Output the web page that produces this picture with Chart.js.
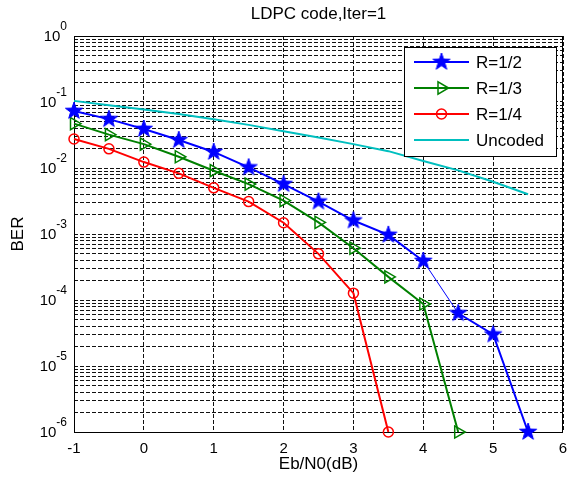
<!DOCTYPE html>
<html>
<head>
<meta charset="utf-8">
<script src="https://cdn.jsdelivr.net/npm/chart.js@4.4.0/dist/chart.umd.min.js"></script>
<style>
  html, body { margin: 0; padding: 0; background: #fff; }
  #ber { display: block; }
</style>
</head>
<body>
<canvas id="ber" width="574" height="483"></canvas>
<script>
// Eb/N0 sweep (dB)
const ebno = [-1, -0.5, 0, 0.5, 1, 1.5, 2, 2.5, 3, 3.5, 4, 4.5, 5, 5.5];

// BER per code rate (curves stop once no errors were counted)
const berHalf = [0.073, 0.055, 0.039, 0.0265, 0.0175, 0.0102, 0.0057, 0.0031, 0.0016, 0.00097, 0.00039, 0.000063, 0.00003, 0.000001];
const berThird = [0.047, 0.032, 0.023, 0.0148, 0.0091, 0.0057, 0.0032, 0.0015, 0.00061, 0.000224, 0.000087, 0.000001];
const berQuarter = [0.0275, 0.0195, 0.0123, 0.0083, 0.005, 0.0031, 0.00148, 0.0005, 0.000127, 0.000001];
const berUncoded = [0.104, 0.089, 0.077, 0.066, 0.055, 0.045, 0.036, 0.029, 0.023, 0.018, 0.0128, 0.0092, 0.0062, 0.0040];

const seriesNames = ["R=1/2", "R=1/3", "R=1/4", "Uncoded"];

// axis ticks
const xTicks = [-1, 0, 1, 2, 3, 4, 5, 6];
const yTickExps = [0, -1, -2, -3, -4, -5, -6];
const minorSteps = [1, 2, 3, 4, 5, 6, 7, 8, 9];

const FONT = "'Liberation Sans', Arial, Helvetica, sans-serif";
Chart.defaults.font.family = FONT;
Chart.defaults.color = "#000";

function pts(ys) {
    return ys.map((y, i) => ({ x: ebno[i], y }));
}

// filled five-point star marker
function makeStar(color, r) {
    const c = document.createElement("canvas");
    c.width = c.height = Math.ceil(2 * r + 2);
    const g = c.getContext("2d");
    const cx = c.width / 2, cy = c.height / 2;
    g.beginPath();
    for (let k = 0; k < 10; k++) {
        const rad = k % 2 === 0 ? r : r * 0.4;
        const a = -Math.PI / 2 + k * Math.PI / 5;
        g.lineTo(cx + rad * Math.cos(a), cy + rad * Math.sin(a));
    }
    g.closePath();
    g.fillStyle = color;
    g.fill();
    g.strokeStyle = color;
    g.lineWidth = 1;
    g.stroke();
    return c;
}
const starMark = makeStar("#0000ff", 9);

// y grid at every 1..9 x 10^k
const yGrid = [];
yTickExps.slice(1).forEach(e => minorSteps.forEach(m => yGrid.push(m * Math.pow(10, e))));
yGrid.push(1);

const boxPlugin = {
    id: "box",
    beforeDatasetsDraw(chart) {
        const { ctx, chartArea: a } = chart;
        ctx.save();
        ctx.strokeStyle = "#000";
        ctx.lineWidth = 1;
        ctx.strokeRect(a.left + 0.5, a.top + 0.5, a.right - a.left - 1, a.bottom - a.top);
        ctx.restore();
    },
    afterDraw(chart) {
        const { ctx, chartArea: a } = chart;
        const y = chart.scales.y;
        ctx.save();
        // title
        ctx.font = "17px " + FONT;
        ctx.fillStyle = "#000";
        ctx.textAlign = "center";
        ctx.textBaseline = "middle";
        ctx.fillText("LDPC code,Iter=1", (a.left + a.right) / 2, 14);

        // y tick labels 10^k
        yTickExps.forEach(e => {
            const py = y.getPixelForValue(Math.pow(10, e));
            const exp = String(e);
            ctx.font = "12px " + FONT;
            const ew = ctx.measureText(exp).width;
            ctx.font = "15px " + FONT;
            const bw = ctx.measureText("10").width;
            const right = a.left - 7;
            ctx.textAlign = "left";
            ctx.fillText("10", right - ew - bw, py + 1);
            ctx.font = "12px " + FONT;
            ctx.fillText(exp, right - ew, py - 9);
        });

        // legend
        const lx = a.right - 159, ly = a.top + 11, lw = 152, lh = 109;
        ctx.fillStyle = "#fff";
        ctx.fillRect(lx, ly, lw, lh);
        ctx.strokeStyle = "#000";
        ctx.lineWidth = 1;
        ctx.strokeRect(lx + 0.5, ly + 0.5, lw, lh);
        chart.data.datasets.forEach((ds, i) => {
            const ry = ly + 15 + i * 26;
            const x0 = lx + 10, x1 = lx + 65, xm = (x0 + x1) / 2;
            ctx.strokeStyle = ds.borderColor;
            ctx.lineWidth = 2;
            ctx.beginPath();
            ctx.moveTo(x0, ry);
            ctx.lineTo(x1, ry);
            ctx.stroke();
            if (ds.pointStyle === starMark) {
                ctx.drawImage(starMark, xm - starMark.width / 2, ry - starMark.height / 2);
            } else if (ds.pointStyle === "triangle") {
                const r = ds.pointRadius;
                ctx.lineWidth = ds.pointBorderWidth;
                ctx.beginPath();
                ctx.moveTo(xm + r, ry);
                ctx.lineTo(xm - r * 0.5, ry - r * 0.87);
                ctx.lineTo(xm - r * 0.5, ry + r * 0.87);
                ctx.closePath();
                ctx.stroke();
            } else if (ds.pointStyle === "circle" && ds.pointRadius > 0) {
                ctx.lineWidth = ds.pointBorderWidth;
                ctx.beginPath();
                ctx.arc(xm, ry, ds.pointRadius, 0, Math.PI * 2);
                ctx.stroke();
            }
            ctx.fillStyle = "#000";
            ctx.font = "17px " + FONT;
            ctx.textAlign = "left";
            ctx.textBaseline = "middle";
            ctx.fillText(ds.label, x1 + 7, ry + 1);
        });
        ctx.restore();
    }
};

new Chart(document.getElementById("ber"), {
    type: "line",
    data: {
        datasets: [{
            label: seriesNames[0],
            data: pts(berHalf),
            borderColor: "#0000ff",
            borderWidth: 2,
            pointStyle: starMark,
            pointRadius: 9,
            segment: { borderWidth: ctx => ctx.p0.parsed.x === 4 ? 1 : 2 }
        }, {
            label: seriesNames[1],
            data: pts(berThird),
            borderColor: "#008000",
            borderWidth: 2,
            pointStyle: "triangle",
            pointRotation: 90,
            pointRadius: 7,
            pointBorderWidth: 1.5,
            pointBackgroundColor: "rgba(0,0,0,0)",
            pointBorderColor: "#008000"
        }, {
            label: seriesNames[2],
            data: pts(berQuarter),
            borderColor: "#ff0000",
            borderWidth: 2,
            pointStyle: "circle",
            pointRadius: 5,
            pointBorderWidth: 1.5,
            pointBackgroundColor: "rgba(0,0,0,0)",
            pointBorderColor: "#ff0000"
        }, {
            label: seriesNames[3],
            data: pts(berUncoded),
            borderColor: "#00bfbf",
            borderWidth: 2,
            pointStyle: "circle",
            pointRadius: 0
        }].map(ds => Object.assign(ds, { tension: 0, fill: false, clip: false }))
    },
    options: {
        responsive: false,
        animation: false,
        layout: { padding: { top: 36, right: 7, left: 0, bottom: 0 } },
        plugins: { legend: { display: false }, title: { display: false }, tooltip: { enabled: false } },
        scales: {
            x: {
                type: "linear",
                min: -1,
                max: 6,
                afterBuildTicks: s => { s.ticks = xTicks.map(v => ({ value: v })); },
                afterFit: s => { s.height = 51; s.paddingLeft = 0; s.paddingRight = 0; },
                ticks: { font: { size: 15 }, padding: 8, color: "#000" },
                grid: { color: "#111", lineWidth: 1, drawTicks: false },
                border: { display: false, dash: [4, 2] },
                title: { display: true, text: "Eb/N0(dB)", font: { size: 17 }, padding: { top: 0, bottom: 8 } }
            },
            y: {
                type: "logarithmic",
                min: 1e-6,
                max: 1,
                afterBuildTicks: s => { s.ticks = yGrid.map(v => ({ value: v })); },
                afterFit: s => { s.width = 74; s.paddingTop = 0; s.paddingBottom = 0; },
                ticks: { display: false },
                grid: { color: "#111", lineWidth: 1, drawTicks: false },
                border: { display: false, dash: [4, 2] },
                title: { display: true, text: "BER", font: { size: 17 }, padding: { top: 8, bottom: 0 } }
            }
        }
    },
    plugins: [boxPlugin]
});
</script>
</body>
</html>
